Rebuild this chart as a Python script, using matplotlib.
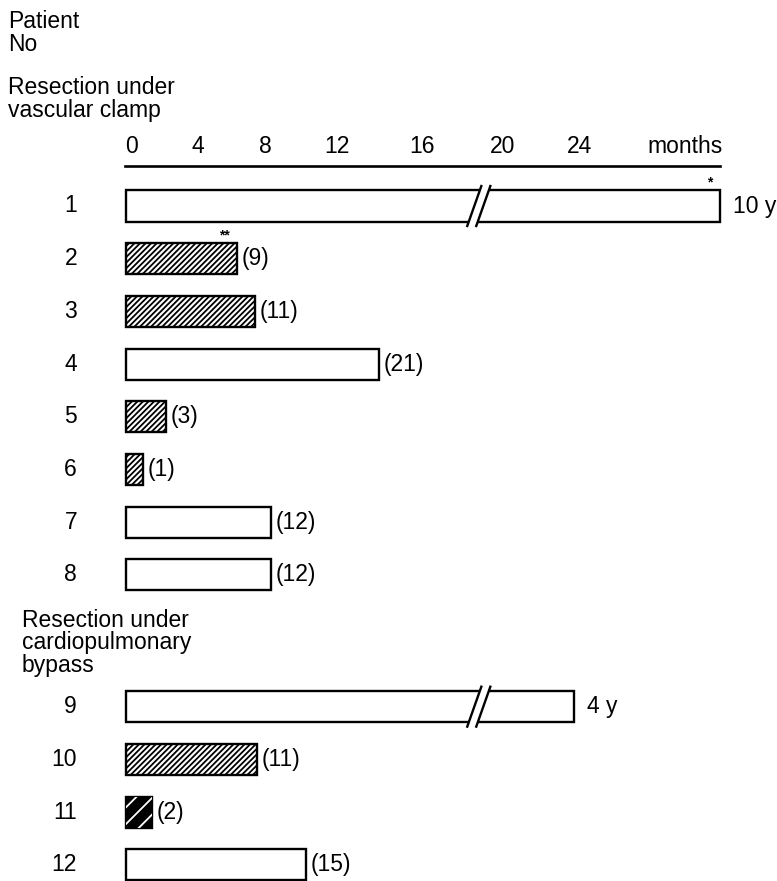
import numpy as np
import matplotlib
matplotlib.use('Agg')
import matplotlib.pyplot as plt

plt.rcParams['font.family'] = ['Liberation Sans', 'DejaVu Sans']
plt.rcParams['hatch.linewidth'] = 1.3

# patients and bar lengths (months, as drawn)
patients = ['1', '2', '3', '4', '5', '6', '7', '8', '9', '10', '11', '12']
bar_len = [49.5, 9.25, 10.75, 21.1, 3.3, 1.4, 12.1, 12.1, 37.3, 10.9, 2.15, 15.0]
hatched = [False, True, True, False, True, True, False, False, False, True, True, False]
end_labels = ['10 y', '(9)', '(11)', '(21)', '(3)', '(1)', '(12)', '(12)', '4 y', '(11)', '(2)', '(15)']
broken = [True, False, False, False, False, False, False, False, True, False, False, False]
stars = ['*', '**', '', '', '', '', '', '', '', '', '', '']

tick_pos = [0.5, 6.0, 11.6, 17.6, 24.7, 31.4, 37.8]
tick_labels = ['0', '4', '8', '12', '16', '20', '24']

FS = 16.5
W, H = 777, 881

fig = plt.figure(figsize=(W / 100, H / 100), dpi=100)
ax = fig.add_axes([0, 0, 1, 1])
ax.set_xlim(-126 / 12, (W - 126) / 12)
ax.set_ylim(1 + (H - 206) / 52.7, 1 - 206 / 52.7)
ax.axis('off')

n = len(patients)
ypos = np.arange(1, n + 1) + np.where(np.arange(n) >= 8, 1.5, 0)
bh = 0.59

bars = ax.barh(ypos, bar_len, height=bh, left=0, color='white',
               edgecolor='black', linewidth=1.7, zorder=2)
for b, h, p in zip(bars, hatched, patients):
    if h:
        b.set_hatch('//////')
    if p == '11':
        b.set_facecolor('black')

# white hatch over the dark bar 11
i11 = patients.index('11')
ax.barh(ypos[i11], bar_len[i11], height=bh, left=0, fill=False,
        edgecolor='white', hatch='//', linewidth=0, zorder=3)

# axis-break marks
brk = 29.4
for y, L, b in zip(ypos, bar_len, broken):
    if not b:
        continue
    g, dx, dy = 0.75, 0.62, 0.4
    poly = [(brk - g / 2 - dx, y + dy), (brk - g / 2 + dx, y - dy),
            (brk + g / 2 + dx, y - dy), (brk + g / 2 - dx, y + dy)]
    ax.add_patch(plt.Polygon(poly, closed=True, facecolor='white',
                             edgecolor='none', zorder=4))
    for s in (-1, 1):
        x0 = brk + s * g / 2
        ax.plot([x0 - dx, x0 + dx], [y + dy, y - dy], color='black',
                lw=1.7, zorder=5, solid_capstyle='butt')

# patient numbers
for y, p in zip(ypos, patients):
    ax.text(-49 / 12, y, p, ha='right', va='center', fontsize=FS)

# end labels
for y, L, lab, b in zip(ypos, bar_len, end_labels, broken):
    gap = 1.1 if b else 0.4
    ax.text(L + gap, y, lab, ha='left', va='center', fontsize=FS)

# stars
for y, L, s in zip(ypos, bar_len, stars):
    if s:
        ax.text(L - 0.6, y - bh / 2 - 0.02, s, ha='right', va='bottom',
                fontsize=10, fontweight='bold')

# top scale
ax.plot([-0.1, 49.5], [0.24, 0.24], color='black', lw=1.9)
for x, t in zip(tick_pos, tick_labels):
    ax.text(x, -0.12, t, ha='center', va='center', fontsize=FS)
ax.text(46.6, -0.12, 'months', ha='center', va='center', fontsize=FS)

# group headers
fig.text(8 / W, 1 - 33 / H, 'Patient\nNo', ha='left', va='center',
         fontsize=FS, linespacing=1.05)
fig.text(8 / W, 1 - 99 / H, 'Resection under\nvascular clamp', ha='left',
         va='center', fontsize=FS, linespacing=1.05)
fig.text(22 / W, 1 - 643 / H, 'Resection under\ncardiopulmonary\nbypass',
         ha='left', va='center', fontsize=FS, linespacing=0.98)

fig.savefig('out.png', dpi=100)
